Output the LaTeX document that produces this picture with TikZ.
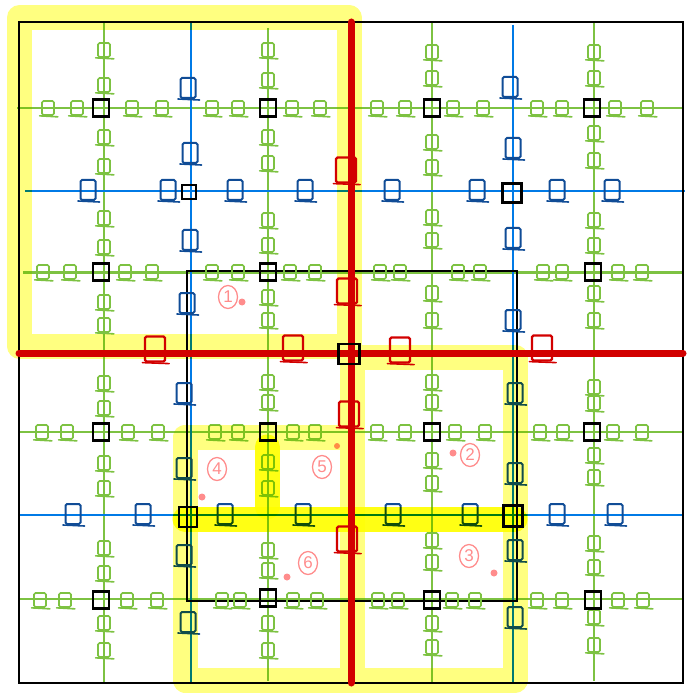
\documentclass[tikz,border=0pt]{standalone}
\usepackage{fontspec}
\setmainfont{Liberation Sans}
\usetikzlibrary{shapes.geometric}
\definecolor{cgreen}{RGB}{125,194,66}
\definecolor{cblue}{RGB}{0,122,230}
\definecolor{cdblue}{RGB}{16,76,150}
\definecolor{cred}{RGB}{210,0,0}
\definecolor{cpink}{RGB}{255,140,140}
\definecolor{cyel}{RGB}{255,255,128}
\definecolor{cyelB}{RGB}{255,255,20}
\tikzset{
 gline/.style={draw=cgreen,line width=2.6pt},
 bline/.style={draw=cblue,line width=2.3pt},
 kline/.style={draw=black,line width=2.3pt},
 rline/.style={draw=cred,line width=7pt,line cap=round},
 sqbase/.style={rectangle,rounded corners=1.5pt,inner sep=0pt,
   append after command={([xshift=-1.5pt]\tikzlastnode.south west) edge[draw=#1,line width=1.6pt,line cap=round] ([xshift=3pt,yshift=-1pt]\tikzlastnode.south east)}},
 gsq/.style={sqbase=cgreen,draw=cgreen,line width=1.7pt,minimum width=12pt,minimum height=14pt},
 bsq/.style={sqbase=cdblue,draw=cdblue,line width=2pt,minimum width=15pt,minimum height=20pt},
 ksq/.style={draw=black,line width=2.3pt,rectangle,inner sep=0pt,minimum width=16pt,minimum height=17pt},
 rsq/.style={sqbase=cred,draw=cred,line width=2.2pt,minimum width=20pt,minimum height=25pt},
 numlab/.style={draw=cpink,text=cpink,line width=1.3pt,ellipse,inner sep=0pt,minimum width=19pt,minimum height=23pt,font=\fontsize{17}{17}\selectfont},
 pdot/.style={fill=cpink,circle,inner sep=0pt,minimum size=7pt},
 hlpale/.style={draw=cyel,line width=25pt,line join=round},
 hlsat/.style={draw=cyelB,line width=25pt,line cap=round}
}
\begin{document}
\begin{tikzpicture}[x=1pt,y=-1pt]
\useasboundingbox (0,0) rectangle (700,700);
% green grid lines
\draw[gline] (104,22) -- (104,683);
\draw[gline] (268,28) -- (268,681);
\draw[gline] (432,22) -- (432,683);
\draw[gline] (594,22) -- (594,681);
\draw[gline] (17,108) -- (683,108);
\draw[gline] (23,272.5) -- (683,272.5);
\draw[gline] (20,432) -- (683,432);
\draw[gline] (20,599) -- (683,599);
% blue lines
\draw[bline] (191,22) -- (191,683);
\draw[bline] (513,25) -- (513,683);
\draw[bline] (25,191) -- (685,191);
\draw[bline] (20,515) -- (683,515);
% black frames
\draw[kline] (19,22) rectangle (683,683);
\draw[kline] (187,271) rectangle (517,601);
% red lines
\draw[rline] (351,22) -- (351,683);
\draw[rline] (19,353) -- (683,353);
% green squares on vertical lines
\foreach[count=\i] \y in {50,85,137,166,218,247,302,325,383,408,463,488,548,573,623,650}
  \node[gsq] (ga\i) at (104,\y) {};
\foreach[count=\i] \y in {50,80,137,163,220,245,297,320,382,402,462,488,550,570,623,650}
  \node[gsq] (gb\i) at (268,\y) {};
\foreach[count=\i] \y in {52,78,142,167,217,240,293,320,382,402,460,483,540,562,623,647}
  \node[gsq] (gc\i) at (432,\y) {};
\foreach[count=\i] \y in {52,78,133,160,220,245,293,320,387,403,455,477,543,567,617,645}
  \node[gsq] (gd\i) at (594,\y) {};
% green squares on horizontal lines
\foreach[count=\i] \x in {48,77,132,162,212,238,292,320,377,405,453,483,537,562,615,647}
  \node[gsq] (ge\i) at (\x,108) {};
\foreach[count=\i] \x in {43,70,125,152,212,238,290,315,380,400,458,480,543,562,618,642}
  \node[gsq] (gf\i) at (\x,272) {};
\foreach[count=\i] \x in {42,67,128,158,215,238,293,315,377,405,455,485,540,563,613,642}
  \node[gsq] (gg\i) at (\x,432) {};
\foreach[count=\i] \x in {40,65,127,157,222,240,293,317,378,398,452,475,537,562,618,643}
  \node[gsq] (gh\i) at (\x,600) {};
% blue squares
\foreach[count=\i] \x/\y in {188/88,190/153,190/240,187/303,88/190,168/190,235/190,305/190,
  510/87,513/148,513/238,513/320,392/190,477/190,557/190,612/190,
  184/393,184/468,184/555,188/622,73/514,143/514,225/514,303/514,
  515/393,515/473,515/550,515/617,393/514,470/514,557/514,615/514}
  \node[bsq] (bq\i) at (\x,\y) {};
% black squares
\foreach[count=\i] \x/\y in {101/108,268/108,432/108,592/108,101/272,268/272,593/272,
  101/432,268/432,432/432,592/432,101/600,268/598,432/600,593/600}
  \node[ksq] (kq\i) at (\x,\y) {};
\node[ksq,minimum width=14pt,minimum height=14pt] (kc1) at (189,192) {};
\node[ksq,minimum width=19pt,minimum height=19pt] (kc2) at (512,193) {};
\node[ksq,minimum width=21pt,minimum height=20pt] (kc3) at (349,354) {};
\node[ksq,minimum width=18pt,minimum height=20pt] (kc4) at (188,517) {};
\node[ksq,minimum width=19pt,minimum height=21pt] (kc5) at (513,516) {};
% red squares
\foreach[count=\i] \x/\y in {346/170,347/291,349/414,347/539,155/349,293/348,400/350,542/348}
  \node[rsq] (rq\i) at (\x,\y) {};
% numbered labels
\node[numlab] (n1) at (228,297) {1};
\node[pdot] (d1) at (242,302) {};
\node[numlab] (n2) at (470,455) {2};
\node[pdot] (d2) at (453,453) {};
\node[numlab] (n3) at (469,556) {3};
\node[pdot] (d3) at (494,573) {};
\node[numlab] (n4) at (217,469) {4};
\node[pdot] (d4) at (202,497) {};
\node[numlab] (n5) at (322,467) {5};
\node[pdot,minimum size=6pt] (d5) at (337,446) {};
\node[numlab] (n6) at (308,563) {6};
\node[pdot] (d6) at (287,577) {};
% highlighter
\begin{scope}[blend mode=multiply]
\draw[hlpale] (19.5,17.5) rectangle (349,346)
  (352,357) rectangle (515,680)
  (185,437) rectangle (352,680);
\draw[hlsat] (185,519) -- (515,519);
\draw[hlsat] (267,447) -- (267,507);
\end{scope}
\end{tikzpicture}
\end{document}
